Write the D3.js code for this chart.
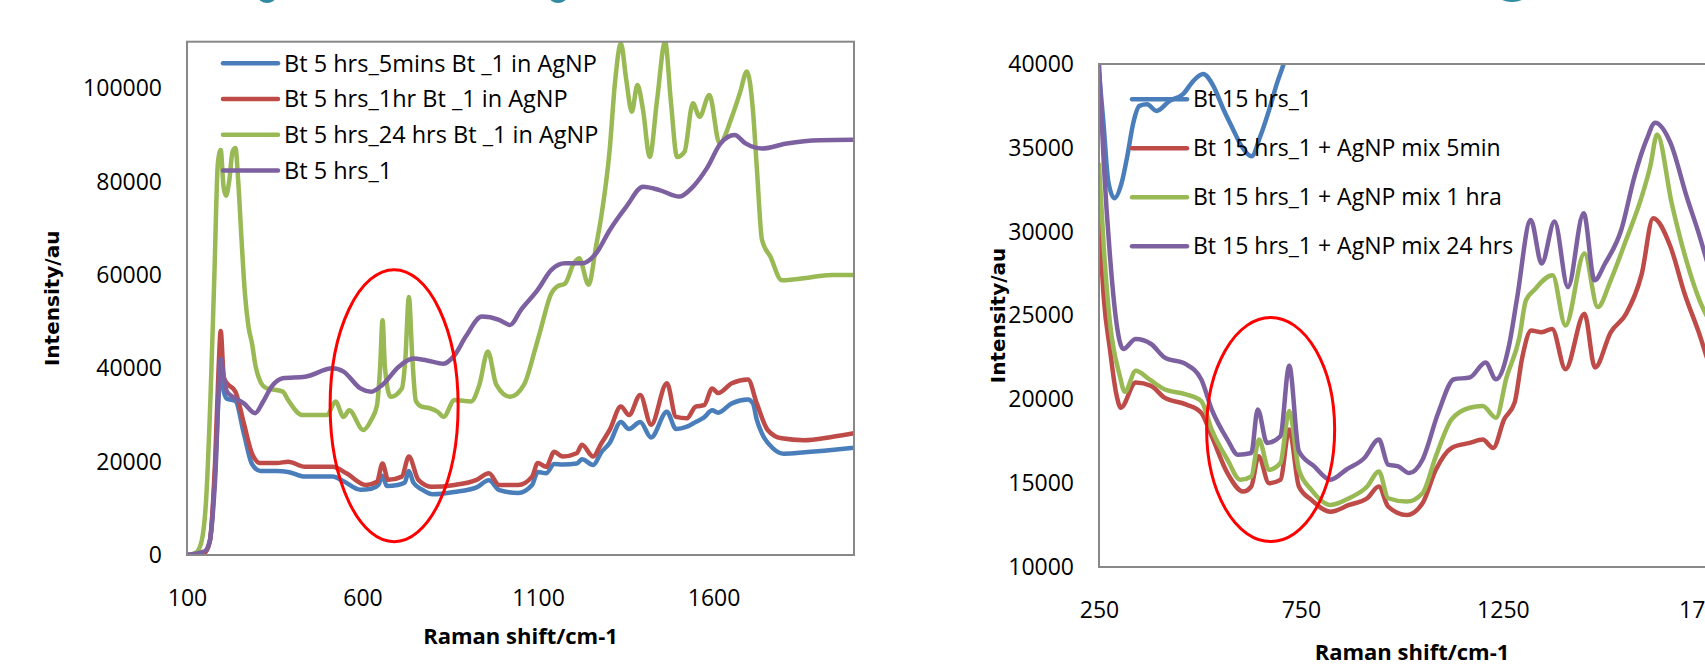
<!DOCTYPE html>
<html>
<head>
<meta charset="utf-8">
<title>Raman spectra</title>
<script src="https://d3js.org/d3.v7.min.js"></script>
<style>
  body { margin: 0; background: #fff; }
  text { font-family: "Open Sans", sans-serif; fill: #000; }
</style>
</head>
<body>
<script>
// ---- left chart series: [Raman shift, intensity] ----
var bt5_5min = [[100,0],[150,500],[165,3000],[180,18000],[190,34000],[196,40000],[205,35000],[214,33500],[238,33000],[262,26000],[285,19500],[309,18000],[356,18000],[388,17800],[436,16800],[515,16800],[546,15800],[594,14000],[625,14200],[645,15000],[657,17000],[669,14800],[700,15000],[720,15500],[732,18000],[745,15500],[770,14000],[800,13000],[862,13500],[925,14500],[960,16000],[990,13900],[1043,13300],[1083,15000],[1099,17800],[1123,17500],[1146,19500],[1170,19400],[1210,19600],[1225,20500],[1257,19300],[1280,22000],[1304,24000],[1336,28500],[1359,27000],[1391,28500],[1422,25200],[1467,30700],[1493,27000],[1524,27500],[1549,28500],[1573,29500],[1596,31000],[1613,30500],[1652,32500],[1698,33300],[1712,32500],[1723,29000],[1738,26000],[1770,22800],[1800,21700],[1860,22000],[1936,22500],[2000,23000]];
var bt5_1hr = [[100,0],[150,500],[165,3000],[180,20000],[190,40000],[196,48000],[205,38000],[214,36800],[238,35000],[262,28200],[285,21800],[309,19700],[356,19700],[388,20000],[436,18900],[515,18900],[554,17500],[610,15000],[641,15700],[657,19600],[673,16100],[712,16800],[732,21100],[759,16100],[798,14600],[862,15000],[925,16100],[960,17500],[989,15000],[1043,15000],[1083,16800],[1099,19700],[1123,18900],[1146,22100],[1170,21100],[1210,21800],[1225,23600],[1257,21100],[1280,23900],[1304,26800],[1336,31800],[1359,30000],[1391,34300],[1422,27900],[1467,36800],[1493,29600],[1524,29300],[1549,31800],[1573,32100],[1596,35700],[1613,34700],[1652,36800],[1698,37600],[1723,32500],[1754,26800],[1794,25000],[1857,24600],[1936,25300],[2000,26100]];
var bt5_24hr = [[100,0],[125,500],[140,2500],[155,12500],[167,34000],[178,60000],[188,84000],[196,86800],[204,79000],[211,77000],[220,80000],[230,86500],[238,87200],[246,80000],[255,68000],[265,56000],[275,49000],[286,45000],[294,41000],[310,37000],[325,35800],[373,35000],[388,33200],[428,30000],[499,30000],[523,32900],[546,29600],[562,31000],[602,26800],[625,29000],[641,32000],[650,40000],[657,50300],[664,40000],[680,33900],[712,35700],[722,42000],[732,55300],[742,42000],[752,33000],[768,31800],[790,31500],[814,30700],[831,29600],[862,33200],[909,32900],[933,36500],[957,43600],[981,36500],[1020,33900],[1060,36500],[1091,43900],[1107,48200],[1138,56100],[1154,57500],[1177,58200],[1202,62500],[1217,63600],[1244,57900],[1265,66100],[1280,72500],[1304,86800],[1319,101100],[1336,109600],[1351,102000],[1367,95000],[1383,100700],[1399,95400],[1418,85300],[1439,97500],[1462,110000],[1478,97500],[1496,85300],[1517,86400],[1541,96800],[1560,93900],[1588,98600],[1617,88200],[1652,93900],[1675,99000],[1695,103600],[1712,95400],[1723,83200],[1738,67500],[1762,63900],[1794,58900],[1857,59300],[1936,60000],[2000,60000]];
var bt5_1 = [[100,0],[150,800],[165,3000],[180,16000],[196,42000],[205,38000],[214,35000],[230,33900],[262,32500],[294,30400],[317,32900],[341,36100],[373,37900],[436,38200],[515,40000],[546,39300],[594,35700],[625,35000],[657,36500],[704,40400],[744,42100],[783,41700],[831,41000],[862,42800],[894,46800],[940,51100],[989,50400],[1020,49300],[1051,52500],[1099,56800],[1138,61100],[1177,62500],[1225,62500],[1265,64600],[1304,69600],[1351,74600],[1399,78900],[1446,78200],[1502,76800],[1541,78900],[1581,82900],[1620,88200],[1660,90000],[1691,88200],[1738,87100],[1809,88200],[1903,88900],[2000,89000]];

var leftNames = ["Bt 5 hrs_5mins Bt _1 in AgNP", "Bt 5 hrs_1hr Bt _1 in AgNP", "Bt 5 hrs_24 hrs Bt _1 in AgNP", "Bt 5 hrs_1"];
var leftTicksX = [100, 600, 1100, 1600];
var leftTicksY = [0, 20000, 40000, 60000, 80000, 100000];

// ---- right chart series ----
var bt15_1 = [[250,39500],[261,36500],[273,33000],[288,32000],[307,33000],[320,34500],[335,36500],[350,37500],[369,37600],[392,37200],[425,37800],[458,38200],[484,39000],[508,39400],[533,38700],[558,37300],[582,36100],[603,35100],[628,34500],[648,35600],[673,37400],[690,38800],[703,39700],[735,42000]];
var bt15_5min = [[250,31000],[262,26000],[277,23000],[293,20300],[304,19500],[341,21000],[379,20800],[412,20100],[465,19700],[503,19200],[529,17800],[568,15600],[607,14500],[627,14800],[645,16600],[671,15000],[699,15200],[721,18200],[745,14800],[776,14000],[823,13300],[869,13700],[914,14100],[943,14800],[966,13600],[1012,13100],[1051,13800],[1084,15800],[1123,17100],[1168,17400],[1200,17600],[1226,17100],[1253,18800],[1279,19800],[1298,22500],[1320,24100],[1346,24000],[1372,24200],[1405,21800],[1452,25100],[1478,21900],[1517,24000],[1555,25100],[1594,27500],[1622,30800],[1665,29100],[1700,26300],[1735,24000],[1765,21800],[1800,20000]];
var bt15_1hr = [[250,34000],[262,29000],[277,24600],[301,21450],[314,20450],[341,21700],[374,21200],[412,20600],[465,20300],[503,19900],[529,18200],[568,16400],[600,15200],[627,15400],[646,17600],[671,15800],[699,16200],[721,19300],[745,15800],[776,14600],[823,13700],[869,14100],[914,14800],[943,15700],[966,14100],[1012,13900],[1051,14400],[1084,16600],[1123,18800],[1168,19500],[1200,19600],[1233,18900],[1259,21300],[1291,23700],[1307,25900],[1327,26500],[1373,27400],[1405,24400],[1452,28700],[1485,25500],[1517,27100],[1555,29500],[1594,32100],[1615,33900],[1632,35800],[1668,31700],[1704,28300],[1737,25900],[1765,24500],[1800,23000]];
var bt15_24hr = [[250,40000],[262,34000],[277,28600],[293,24600],[310,23000],[341,23600],[379,23300],[412,22500],[465,22100],[503,21200],[529,19400],[568,17600],[594,16700],[627,16800],[643,19400],[666,17400],[699,17800],[721,22000],[745,16900],[783,16000],[823,15200],[862,15800],[907,16500],[943,17600],[966,16100],[991,16000],[1018,15600],[1051,16400],[1090,19200],[1129,21200],[1168,21300],[1207,22200],[1233,21200],[1266,23300],[1285,26000],[1319,30700],[1346,28100],[1378,30600],[1411,26700],[1450,31100],[1477,27100],[1503,28100],[1543,30100],[1576,33300],[1606,35500],[1627,36500],[1665,35300],[1705,32100],[1735,29900],[1765,27500],[1800,25500]];

var rightNames = ["Bt 15 hrs_1", "Bt 15 hrs_1 + AgNP mix 5min", "Bt 15 hrs_1 + AgNP mix 1 hra", "Bt 15 hrs_1 + AgNP mix 24 hrs"];
var rightTicksX = [250, 750, 1250, 1750];
var rightTicksY = [10000, 15000, 20000, 25000, 30000, 35000, 40000];

var colors = ["#4a7ebb", "#be4b48", "#98b954", "#7d60a0"];

var svg = d3.select("body")
            .append("svg")
            .attr("width", 1705)
            .attr("height", 671);

svg.append("rect").attr("width", 1705).attr("height", 671).attr("fill", "#fff");

// bits of a cut-off title at the very top
[[267, -4, 9, 7], [558, -4, 9, 7], [1512, -5, 14, 7]].forEach(function(e){
  svg.append("ellipse").attr("cx", e[0]).attr("cy", e[1]).attr("rx", e[2]).attr("ry", e[3]).attr("fill", "#2f8aa2");
});

function drawPanel(p){
  var x = d3.scaleLinear().domain(p.xDomain).range([p.left, p.right]);
  var y = d3.scaleLinear().domain(p.yDomain).range([p.bottom, p.top]);
  var g = svg.append("g");

  g.append("clipPath").attr("id", p.id)
   .append("rect")
   .attr("x", p.left).attr("y", p.top)
   .attr("width", p.right - p.left).attr("height", p.bottom - p.top);

  //axes
  var ya = g.append("g")
            .attr("transform", "translate(" + p.left + ",0)")
            .call(d3.axisLeft(y).tickValues(p.yTicks).tickSize(0).tickPadding(25).tickFormat(d3.format("d")));
  var xa = g.append("g")
            .attr("transform", "translate(0," + p.bottom + ")")
            .call(d3.axisBottom(x).tickValues(p.xTicks).tickSize(0).tickPadding(35).tickFormat(d3.format("d")));
  [ya, xa].forEach(function(a){
    a.select(".domain").remove();
    a.selectAll("text").style("font-family", "'Open Sans', sans-serif").style("font-size", "23px").attr("fill", "#000");
  });

  //series
  var line = d3.line()
               .x(function(d){ return x(d[0]); })
               .y(function(d){ return y(d[1]); })
               .curve(d3.curveMonotoneX);
  var sg = g.append("g").attr("clip-path", "url(#" + p.id + ")");
  p.series.forEach(function(s, i){
    sg.append("path")
      .attr("d", line(s))
      .attr("fill", "none")
      .attr("stroke", colors[i])
      .attr("stroke-width", 4.5)
      .attr("stroke-linejoin", "round")
      .attr("stroke-linecap", "round");
  });

  //plot area border
  g.append("rect")
   .attr("x", p.left).attr("y", p.top)
   .attr("width", p.right - p.left).attr("height", p.bottom - p.top)
   .attr("fill", "none").attr("stroke", "#888").attr("stroke-width", 2);

  //axis titles
  g.append("text")
   .attr("transform", "translate(" + p.yTitleX + "," + (p.top + p.bottom) / 2 + ") rotate(-90)")
   .attr("text-anchor", "middle").attr("dy", "0.35em")
   .style("font-family", "'DejaVu Sans', sans-serif").style("font-weight", "bold").style("font-size", "20px")
   .text("Intensity/au");
  g.append("text")
   .attr("x", (p.left + p.right) / 2).attr("y", p.xTitleY)
   .attr("text-anchor", "middle").attr("dy", "0.35em")
   .style("font-weight", "bold").style("font-size", "22px")
   .text("Raman shift/cm-1");

  //legend
  p.names.forEach(function(n, i){
    var ly = p.legTop + i * p.legStep;
    g.append("line")
     .attr("x1", p.legX).attr("x2", p.legX + 55)
     .attr("y1", ly).attr("y2", ly)
     .attr("stroke", colors[i]).attr("stroke-width", 4.5).attr("stroke-linecap", "round");
    g.append("text")
     .attr("x", p.legX + 61).attr("y", ly).attr("dy", "0.35em")
     .style("font-size", p.legFont)
     .text(n);
  });

  //red marking ellipse
  g.append("ellipse")
   .attr("cx", x(p.ring[0])).attr("cy", y(p.ring[1]))
   .attr("rx", p.ring[2]).attr("ry", p.ring[3])
   .attr("fill", "none").attr("stroke", "#ff0000").attr("stroke-width", 3);
}

drawPanel({
  id: "clipLeft",
  left: 187, right: 854, top: 41.7, bottom: 555,
  xDomain: [100, 2000], yDomain: [0, 110000],
  xTicks: leftTicksX, yTicks: leftTicksY,
  series: [bt5_5min, bt5_1hr, bt5_24hr, bt5_1],
  names: leftNames,
  legX: 223, legTop: 63.3, legStep: 35.7, legFont: "23.5px",
  yTitleX: 52, xTitleY: 636,
  ring: [690, 32000, 64, 136]
});

drawPanel({
  id: "clipRight",
  left: 1099, right: 1725, top: 64, bottom: 567,
  xDomain: [250, 1800], yDomain: [10000, 40000],
  xTicks: rightTicksX, yTicks: rightTicksY,
  series: [bt15_1, bt15_5min, bt15_1hr, bt15_24hr],
  names: rightNames,
  legX: 1132, legTop: 99.3, legStep: 49, legFont: "23px",
  yTitleX: 998, xTitleY: 652,
  ring: [675, 18200, 64, 112]
});
</script>
</body>
</html>
